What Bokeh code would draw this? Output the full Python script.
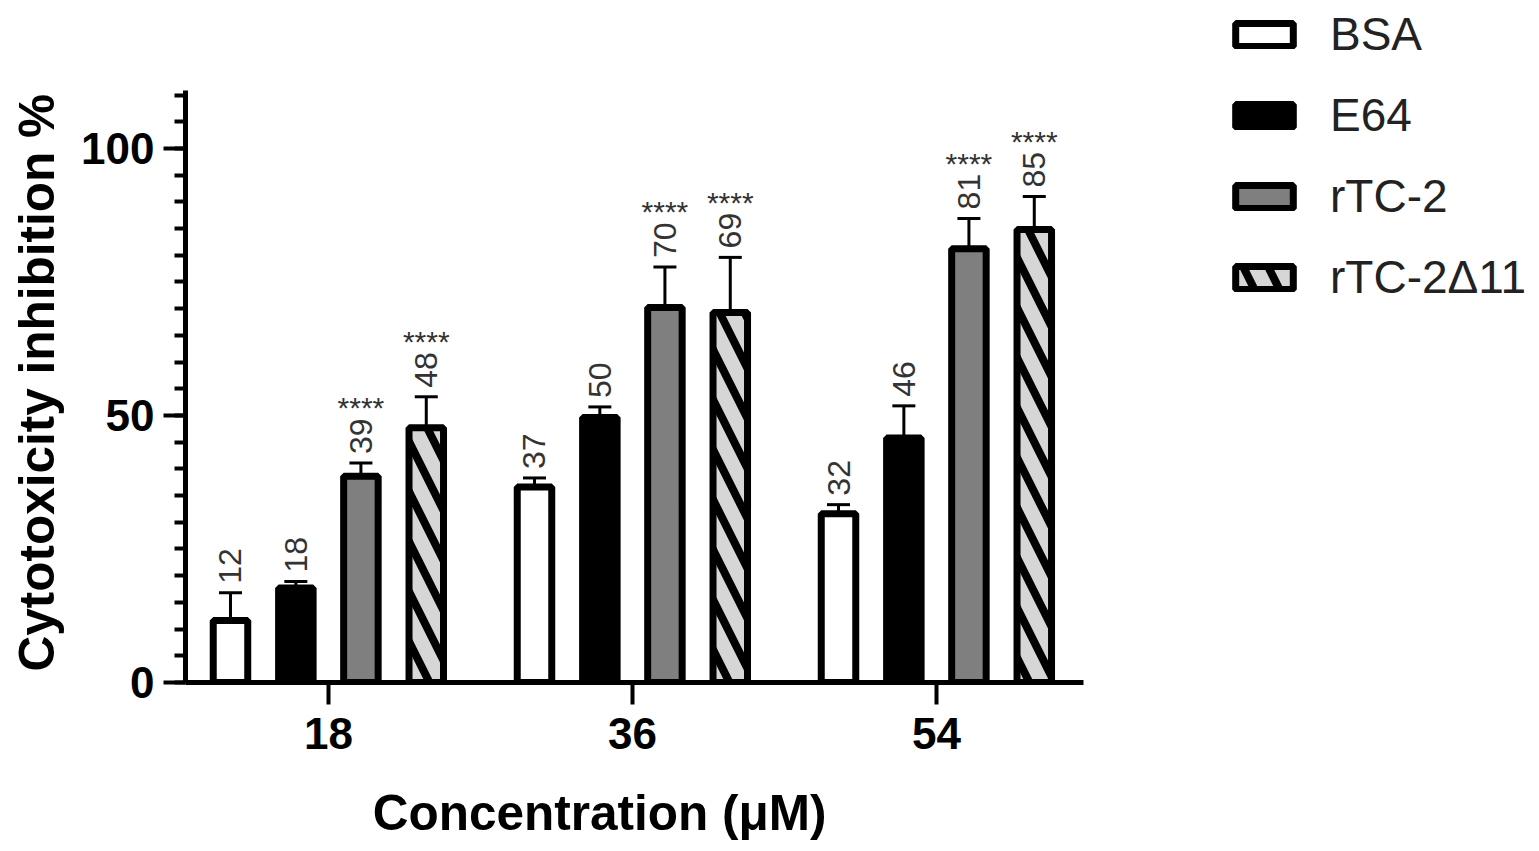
from math import pi
from bokeh.plotting import figure
from bokeh.models import (ColumnDataSource, Range1d, Whisker, TeeHead, FixedTicker,
                          Legend, LegendItem, SingleIntervalTicker)
from bokeh.transform import dodge
from bokeh.core.properties import value
from bokeh.embed import file_html
from bokeh.resources import INLINE

# ---- data ----
concentrations = ["18", "36", "54"]
series = ["BSA", "E64", "rTC-2", "rTC-2Δ11"]
bsa_mean = [11.6, 36.6, 31.6]
e64_mean = [17.7, 49.6, 45.8]
rtc2_mean = [38.6, 70.2, 81.2]
rtc2d11_mean = [47.7, 69.3, 84.8]
bsa_sd = [5.2, 1.7, 1.7]
e64_sd = [1.2, 2.0, 6.0]
rtc2_sd = [2.5, 7.6, 5.7]
rtc2d11_sd = [5.8, 10.3, 6.2]
significance = ["", "", "****", "****"]
x_title = "Concentration (μM)"
y_title = "Cytotoxicity inhibition %"

means = [bsa_mean, e64_mean, rtc2_mean, rtc2d11_mean]
sds = [bsa_sd, e64_sd, rtc2_sd, rtc2d11_sd]
offsets = [-0.322, -0.107, 0.107, 0.322]
styles = [
    dict(fill_color="white"),
    dict(fill_color="black"),
    dict(fill_color="#7f7f7f"),
    dict(fill_color="#d6d6d6", hatch_pattern="\\", hatch_color="black",
         hatch_weight=8, hatch_scale=50),
]
group_pos = list(range(len(concentrations)))

FONT = "Liberation Sans"
NBSP = "\u00a0"

# the frame also covers the legend area; the axes are limited with bounds
X_AXIS_BOUNDS = (-0.470, 2.484)
Y_AXIS_BOUNDS = (0, 110.9)

p = figure(width=1536, height=851, output_backend="svg", toolbar_location=None,
           x_range=Range1d(-0.470, 3.974), y_range=Range1d(0, 127.7),
           min_border_left=185, min_border_top=0, min_border_right=0,
           min_border_bottom=169)
p.outline_line_color = None
p.xgrid.grid_line_color = None
p.ygrid.grid_line_color = None
p.background_fill_color = "white"

items = []
for name, m, s, off, st, sig in zip(series, means, sds, offsets, styles, significance):
    src = ColumnDataSource(dict(
        pos=group_pos,
        mean=m,
        upper=[a + b for a, b in zip(m, s)],
        label=[f"{a:.0f}" for a in m],
        sig=[sig] * len(m),
    ))
    xs = dodge("pos", off)
    r = p.vbar(x=xs, top="mean", width=0.1135, source=src,
               line_color="black", line_width=7, **st)
    items.append(LegendItem(label=name, renderers=[r]))
    w = Whisker(source=src, base=xs, upper="upper", lower="mean",
                dimension="height", line_width=3, line_color="black",
                upper_head=TeeHead(size=23, line_width=3, line_color="black"),
                lower_head=None)
    p.add_layout(w)
    p.text(x=xs, y="upper", text="label", source=src, angle=pi / 2,
           text_align="left", text_baseline="middle", y_offset=-9,
           text_font=value(FONT), text_font_size="32px", text_color="#333333")
    if sig:
        p.text(x=xs, y="upper", text="sig", source=src,
               text_align="center", text_baseline="alphabetic", y_offset=-55,
               text_font=value(FONT), text_font_size="30px", text_color="#333333")

# axes
for ax in (p.xaxis[0], p.yaxis[0]):
    ax.axis_line_width = 5
    ax.axis_line_color = "black"
    ax.major_tick_line_width = 4
    ax.major_tick_line_color = "black"
    ax.major_tick_in = 0
    ax.major_tick_out = 22
    ax.major_label_text_font = FONT
    ax.major_label_text_font_style = "bold"
    ax.major_label_text_font_size = "44px"
    ax.major_label_text_color = "black"
    ax.axis_label_text_font = FONT
    ax.axis_label_text_font_style = "bold"
    ax.axis_label_text_font_size = "49.5px"
    ax.axis_label_text_color = "black"

p.yaxis.bounds = Y_AXIS_BOUNDS
p.yaxis.ticker = SingleIntervalTicker(interval=50, num_minor_ticks=10)
p.yaxis.minor_tick_in = 0
p.yaxis.minor_tick_out = 11
p.yaxis.minor_tick_line_width = 4
p.yaxis.minor_tick_line_color = "black"
p.yaxis.major_label_standoff = 9
# axis titles are centred on the whole frame (which also holds the legend);
# trailing no-break spaces move the visible words to where the reference has them
p.yaxis.axis_label = y_title + NBSP * 6
p.yaxis.axis_label_standoff = 14

p.xaxis.bounds = X_AXIS_BOUNDS
p.xaxis.ticker = FixedTicker(ticks=group_pos)
p.xaxis.major_label_overrides = {i: c for i, c in zip(group_pos, concentrations)}
p.xaxis.minor_tick_line_color = None
p.xaxis.major_label_standoff = 13
p.xaxis.axis_label = x_title + NBSP * 38
p.xaxis.axis_label_standoff = 33

legend = Legend(items=items, location=(1043, 378), padding=0, margin=0,
                glyph_width=72, glyph_height=29, label_standoff=30, spacing=27,
                label_text_font=FONT, label_text_font_size="46px",
                label_text_color="#222222", border_line_color=None,
                background_fill_alpha=0)
p.add_layout(legend, "center")

open("out.html", "w").write(file_html(p, INLINE))
